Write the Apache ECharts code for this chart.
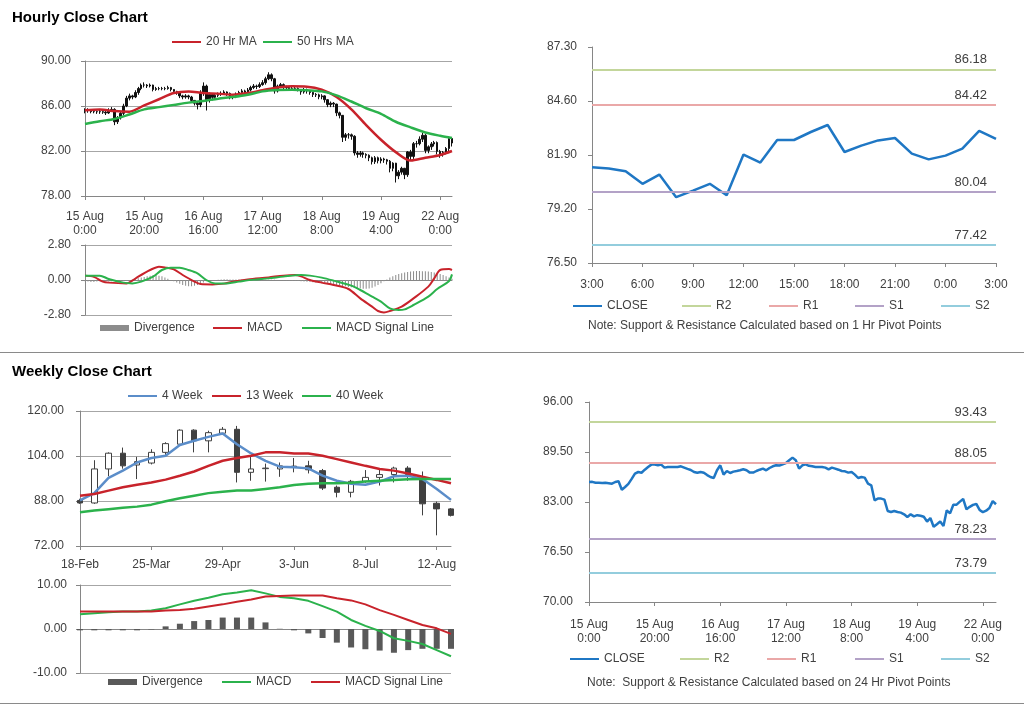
<!DOCTYPE html>
<html><head><meta charset="utf-8">
<script src="https://cdn.jsdelivr.net/npm/echarts@6/dist/echarts.min.js"></script>
<style>html,body{margin:0;padding:0;background:#fff}#c{width:1024px;height:706px}</style>
</head><body><div id="c"></div>
<script>
// ---------- DATA ----------
const hourTickLabels = ['15 Aug\n0:00','15 Aug\n20:00','16 Aug\n16:00','17 Aug\n12:00','18 Aug\n8:00','19 Aug\n4:00','22 Aug\n0:00'];
const pivotHourLabels = ['3:00','6:00','9:00','12:00','15:00','18:00','21:00','0:00','3:00'];
const weekTickLabels = ['18-Feb','25-Mar','29-Apr','3-Jun','8-Jul','12-Aug'];

const firstOpen = 85.55;
const hourlyClose = [
85.6,85.62,85.5,85.5,85.48,85.5,85.45,85.38,85.6,85.7,
84.6,84.95,85.35,86.0,86.7,86.9,86.8,87.2,87.55,87.86,
87.86,87.78,87.86,87.47,87.55,87.55,87.55,87.55,87.64,87.47,
87.3,87.16,86.9,86.8,86.9,86.8,86.5,86.25,86.12,87.12,
87.77,86.56,87.03,86.77,86.95,87.03,87.12,87.25,87.12,86.82,
86.82,87.03,87.2,87.34,87.12,87.42,87.64,87.77,87.73,87.9,
88.07,88.42,88.77,88.42,87.34,87.77,87.9,87.7,87.64,87.55,
87.55,87.55,87.47,87.25,87.47,87.34,87.2,87.03,86.99,86.82,
86.9,86.56,86.12,86.25,86.17,85.39,85.17,83.22,83.44,83.44,
83.31,81.83,81.7,81.83,81.7,81.62,81.4,81.05,81.4,81.14,
81.29,81.22,81.09,80.46,80.92,79.79,80.12,80.46,79.89,81.92,
81.52,82.65,82.65,83.05,83.40,82.05,82.37,82.63,82.75,81.97,
81.68,81.87,82.22,83.11,82.71];
const hourlyHigh = [
85.8,85.8,85.7,85.65,85.6,85.65,85.6,85.55,85.8,85.9,
85.8,85.1,85.5,86.2,86.9,87.1,87.0,87.4,87.7,88.0,
88.1,87.95,88.0,87.9,87.7,87.7,87.7,87.7,87.8,87.7,
87.5,87.35,87.2,87.0,87.05,87.0,86.9,86.5,86.4,87.4,
88.1,87.9,87.2,87.1,87.1,87.2,87.3,87.4,87.3,87.2,
87.0,87.2,87.35,87.5,87.45,87.6,87.8,87.95,87.9,88.1,
88.3,88.6,89.0,88.9,88.5,87.9,88.05,88.0,87.8,87.7,
87.7,87.7,87.65,87.5,87.6,87.55,87.4,87.25,87.15,87.1,
87.05,86.95,86.6,86.4,86.35,86.2,85.5,85.2,83.6,83.6,
83.55,83.4,82.0,82.0,81.95,81.8,81.7,81.5,81.55,81.5,
81.45,81.4,81.3,81.2,81.0,80.95,80.3,80.6,80.5,82.0,
82.1,82.8,82.9,83.3,83.6,83.5,82.5,82.8,82.9,82.85,
82.1,82.0,82.35,83.3,83.2];
const hourlyLow = [
85.35,85.4,85.35,85.35,85.3,85.3,85.3,85.2,85.3,85.5,
84.3,84.4,84.8,85.2,85.9,86.5,86.6,86.7,87.0,87.4,
87.65,87.6,87.65,87.3,87.35,87.4,87.4,87.4,87.45,87.3,
87.1,87.0,86.7,86.6,86.65,86.6,86.3,86.05,85.7,85.9,
86.9,85.6,86.3,86.5,86.6,86.8,86.9,87.0,86.9,86.6,
86.6,86.7,86.9,87.1,86.9,87.0,87.3,87.5,87.5,87.6,
87.8,87.9,88.3,88.2,87.1,87.2,87.6,87.5,87.45,87.35,
87.35,87.35,87.3,87.0,87.1,87.1,87.0,86.8,86.8,86.6,
86.6,86.3,85.9,85.9,85.9,85.1,84.9,82.8,82.9,83.1,
83.0,81.6,81.4,81.5,81.4,81.35,81.1,80.8,80.85,80.9,
80.9,80.95,80.8,80.1,80.2,79.2,79.5,79.9,79.5,79.7,
81.2,81.3,82.3,82.5,82.8,81.8,81.8,82.1,82.4,81.7,
81.4,81.5,81.7,82.0,82.4];

const ma20 = [[0,85.62],[5,85.68],[10,85.55],[15,85.5],[20,86.05],[25,86.6],[30,87.15],[35,87.3],[40,87.15],[45,87.1],[50,87.0],[55,87.15],[60,87.4],[65,87.65],[70,87.75],[75,87.72],[80,87.45],[85,86.8],[90,85.7],[95,84.3],[100,83.0],[105,81.9],[110,81.15],[115,81.4],[120,81.65],[124,82.0]];
const ma50 = [[0,84.4],[5,84.65],[10,84.85],[15,85.25],[20,85.7],[25,85.9],[30,86.1],[35,86.3],[40,86.45],[45,86.65],[50,86.8],[55,87.0],[60,87.3],[65,87.42],[70,87.45],[75,87.4],[80,87.3],[85,86.95],[90,86.4],[95,85.8],[100,85.3],[105,84.6],[110,84.1],[115,83.65],[120,83.35],[124,83.15]];

const hMacd = [[0,0.35],[3,0.25],[6,-0.13],[8,-0.21],[14,-0.27],[16,-0.05],[18,0.27],[22,0.8],[25,1.07],[27,1.01],[30,0.85],[33,0.4],[37,-0.13],[39,-0.32],[43,-0.35],[47,-0.29],[50,-0.13],[55,0.05],[62,0.21],[67,0.35],[71,0.4],[73,0.29],[76,0.0],[80,-0.21],[84,-0.4],[89,-0.72],[93,-1.47],[97,-2.13],[99,-2.48],[101,-2.59],[103,-2.48],[107,-2.13],[111,-1.47],[116,-0.53],[118,0.13],[120,0.8],[123,0.88],[124,0.8]];
const hSignal = [[0,0.35],[5,0.35],[8,0.08],[13,-0.21],[16,-0.27],[19,-0.13],[23,0.27],[26,0.8],[29,0.99],[32,0.99],[35,0.8],[38,0.53],[41,0.0],[44,-0.27],[48,-0.27],[52,-0.13],[57,0.03],[62,0.13],[67,0.27],[73,0.4],[76,0.35],[80,0.19],[84,-0.05],[90,-0.45],[93,-0.8],[97,-1.33],[100,-1.73],[103,-2.27],[106,-2.4],[108,-2.35],[111,-2.0],[116,-1.33],[119,-0.72],[123,-0.08],[124,0.45]];
const hDiv = [
-0.1,-0.12,-0.15,-0.15,-0.12,-0.1,-0.1,-0.12,-0.12,-0.1,-0.08,-0.06,-0.05,-0.04,-0.02,0.0,
0.05,0.1,0.15,0.2,0.25,0.3,0.35,0.4,0.4,0.35,0.3,0.2,0.1,0.0,
-0.1,-0.2,-0.3,-0.4,-0.45,-0.5,-0.5,-0.45,-0.4,-0.3,-0.2,-0.1,-0.05,
-0.02,0.0,0.02,0.05,0.06,0.06,0.05,0.05,0.05,0.04,0.04,0.03,0.03,0.03,0.02,0.02,0.02,0.02,0.02,0.02,0.02,0.02,0.0,0.0,-0.02,-0.03,-0.04,-0.05,-0.06,-0.08,-0.1,-0.12,-0.14,-0.16,-0.18,-0.2,-0.22,
-0.25,-0.28,-0.3,-0.33,-0.36,-0.4,-0.43,-0.47,-0.5,-0.55,-0.58,-0.62,-0.65,-0.68,-0.7,-0.7,-0.68,-0.62,-0.52,-0.4,-0.25,-0.1,
0.05,0.2,0.3,0.4,0.48,0.55,0.6,0.65,0.68,0.7,0.72,0.72,0.7,0.7,0.68,0.65,0.6,0.55,0.48,0.4,0.3,0.2,0.1];

const pivotNames = ['R2','R1','S1','S2'];
const pivot1h = [86.18,84.42,80.04,77.42];
const pivot24h = [93.43,88.05,78.23,73.79];

const wOpen  = [88.2,87.3,99.4,105.0,100.8,101.5,105.3,108.2,113.2,109.4,112.1,113.5,98.2,99.5,99.4,100.0,100.5,98.8,92.9,91.1,95.0,96.4,97.4,99.7,95.8,87.2,85.2];
const wClose = [87.3,99.4,105.0,100.5,102.0,105.3,108.4,113.2,109.4,112.3,113.5,98.2,99.4,99.7,100.5,100.4,99.1,92.6,91.1,95.0,96.4,97.4,99.7,97.4,87.0,85.2,82.9];
const wLow   = [87.0,87.0,96.8,99.5,95.8,101.0,104.3,107.8,105.3,105.3,111.8,94.6,95.2,94.9,96.6,98.2,97.8,91.9,89.3,89.3,94.5,93.5,94.6,95.2,82.9,75.8,82.5];
const wHigh  = [88.8,102.5,105.3,107.0,103.7,106.4,108.9,113.5,113.5,113.0,114.3,114.7,104.1,101.3,101.7,103.3,102.3,99.4,93.5,95.5,99.0,99.4,100.2,100.4,98.5,87.8,85.5];
const wk4  = [88.2,90.8,96.2,98.8,101.7,103.3,104.1,107.9,109.4,110.8,112.0,108.2,104.9,102.3,100.2,100.0,99.6,97.0,95.2,94.1,93.8,94.9,96.8,97.0,95.8,92.3,88.4];
const wk13 = [89.9,90.5,91.7,92.9,93.8,94.6,95.6,97.0,98.5,100.5,102.3,103.3,104.1,105.3,105.3,104.9,104.9,104.1,102.9,101.7,100.5,99.4,98.8,97.8,96.6,95.5,94.3];
const wk40 = [84.0,84.6,85.1,85.6,86.0,86.7,87.9,89.0,89.9,90.8,91.3,91.7,91.7,92.3,92.9,93.7,94.1,94.3,94.3,94.5,94.9,95.2,95.5,95.7,95.8,95.8,95.8];
const wMacd   = [3.35,3.6,3.8,3.95,3.95,4.2,4.7,5.6,6.4,7.1,7.9,8.3,8.8,8.1,7.3,7.0,6.4,5.2,3.95,2.05,0.7,-0.45,-2.1,-2.7,-3.4,-4.8,-6.2];
const wSignal = [3.95,3.95,3.95,3.95,3.95,3.95,4.2,4.3,4.6,5.1,5.6,6.2,6.7,7.4,7.5,7.6,7.6,7.6,7.0,6.5,5.6,4.3,3.2,2.05,0.9,0.15,-1.1];
const wDiv    = [-0.3,-0.3,-0.3,-0.3,-0.3,-0.1,0.6,1.2,1.8,2.05,2.6,2.6,2.6,1.5,0.05,-0.3,-1.0,-2.05,-3.1,-4.2,-4.6,-4.9,-5.4,-4.8,-4.5,-4.5,-4.5];

// ---------- STYLE ----------
const FONT = "'Liberation Sans', Arial, sans-serif";
const TXT = '#404040';
const AX = '#868686';
const GRID = '#a6a6a6';
const pivotColors = ['#c3d69b','#eaa8a8','#b3a2c7','#93cddd'];
const RED = '#c8232b', GREEN = '#2bb24c', BLUE = '#1f77c4';

const hourlyOpen = [firstOpen].concat(hourlyClose.slice(0, -1));
const hourCandles = hourlyClose.map((c, i) => [hourlyOpen[i], c, hourlyLow[i], hourlyHigh[i]]);
const weekCandles = wClose.map((c, i) => [wOpen[i], c, wLow[i], wHigh[i]]);
const last25 = hourlyClose.slice(-25);

function idx(n) { return Array.from({length: n}, (_, i) => String(i)); }

function valAxis(gi, min, max, ticks, margin, split) {
  return {
    type: 'value', gridIndex: gi, min, max,
    axisLine: {show: true, lineStyle: {color: AX}},
    axisTick: {show: true, length: 4, customValues: ticks, lineStyle: {color: AX}},
    axisLabel: {customValues: ticks, formatter: v => v.toFixed(2), color: TXT, fontSize: 12, fontFamily: FONT, margin},
    splitLine: {show: split, lineStyle: {color: GRID}}
  };
}
function catAxis(gi, n, every, labels, margin, lh, showLabel) {
  return {
    type: 'category', gridIndex: gi, boundaryGap: false, data: idx(n),
    axisLine: {show: true, lineStyle: {color: AX}},
    axisTick: {show: showLabel, interval: every - 1, length: 4, lineStyle: {color: AX}},
    axisLabel: {show: showLabel, interval: every - 1, margin, lineHeight: lh, color: TXT, fontSize: 12, fontFamily: FONT,
      formatter: (v, i) => (i % every === 0 && labels[i / every] !== undefined) ? labels[i / every] : ''},
    splitLine: {show: false}
  };
}
function lg(name, x, cy, h) {
  return {data: [name], left: x, top: cy - 7, padding: 0, itemWidth: 29, itemHeight: h || 2, icon: 'rect',
    itemGap: 0, itemTextGap: 4, selectedMode: false, formatter: n => n.split('#')[0],
    textStyle: {color: TXT, fontSize: 12, fontFamily: FONT}};
}
function pivotSeries(name, value, color, ax) {
  return {name, type: 'line', xAxisIndex: ax, yAxisIndex: ax, data: [], itemStyle: {color}, lineStyle: {color},
    markLine: {silent: true, symbol: ['none','none'], animation: false,
      lineStyle: {color, width: 2, type: 'solid'},
      label: {show: true, position: 'insideEndTop', distance: [9, 3], formatter: p => Number(p.value).toFixed(2),
        color: TXT, fontSize: 13, fontFamily: FONT},
      emphasis: {disabled: true},
      data: [{yAxis: value}]}};
}
function lineS(name, data, color, ax, w) {
  return {name, type: 'line', xAxisIndex: ax, yAxisIndex: ax, data, showSymbol: false, symbol: 'none',
    smooth: Array.isArray(data[0]) ? 0.3 : false, itemStyle: {color}, lineStyle: {color, width: w}, z: 3};
}

const series = [
  {name: 'hourly', type: 'candlestick', xAxisIndex: 0, yAxisIndex: 0, data: hourCandles, barWidth: 2, clip: true,
    itemStyle: {color: '#111', color0: '#111', borderColor: '#111', borderColor0: '#111', borderWidth: 1}},
  lineS('20 Hr MA', ma20, RED, 0, 2.5),
  lineS('50 Hrs MA', ma50, GREEN, 0, 2.5),
  {name: 'Divergence#h', type: 'bar', xAxisIndex: 1, yAxisIndex: 1, data: hDiv, barWidth: 1, itemStyle: {color: '#8c8c8c'}},
  lineS('MACD#h', hMacd, RED, 1, 2),
  lineS('MACD Signal Line#h', hSignal, GREEN, 1, 2),
  lineS('CLOSE#1h', last25, BLUE, 2, 2.5),
  {name: 'weekly', type: 'candlestick', xAxisIndex: 3, yAxisIndex: 3, data: weekCandles, barWidth: 6, clip: true,
    itemStyle: {color: '#ffffff', color0: '#404040', borderColor: '#404040', borderColor0: '#404040', borderWidth: 1}},
  lineS('4 Week', wk4, '#5b8dc9', 3, 2.5),
  lineS('13 Week', wk13, RED, 3, 2.5),
  lineS('40 Week', wk40, GREEN, 3, 2.5),
  {name: 'Divergence#w', type: 'bar', xAxisIndex: 4, yAxisIndex: 4, data: wDiv, barWidth: 6, itemStyle: {color: '#595959'}},
  lineS('MACD#w', wMacd, GREEN, 4, 2),
  lineS('MACD Signal Line#w', wSignal, RED, 4, 2),
  lineS('CLOSE#24h', hourlyClose, BLUE, 5, 2.5)
];
pivotNames.forEach((n, i) => series.push(pivotSeries(n + '#1h', pivot1h[i], pivotColors[i], 2)));
pivotNames.forEach((n, i) => series.push(pivotSeries(n + '#24h', pivot24h[i], pivotColors[i], 5)));

const option = {
  animation: false,
  textStyle: {fontFamily: FONT},
  grid: [
    {left: 85, top: 61, width: 367, height: 135},
    {left: 85, top: 245, width: 367, height: 70},
    {left: 592, top: 47, width: 404, height: 216},
    {left: 80, top: 411, width: 371, height: 135},
    {left: 80, top: 585, width: 371, height: 88},
    {left: 589, top: 402, width: 407, height: 200}
  ],
  xAxis: [
    catAxis(0, 125, 20, hourTickLabels, 14, 14, true),
    catAxis(1, 125, 20, [], 8, 14, false),
    catAxis(2, 25, 3, pivotHourLabels, 15, 14, true),
    catAxis(3, 27, 5, weekTickLabels, 12, 14, true),
    catAxis(4, 27, 5, [], 8, 14, false),
    catAxis(5, 125, 20, hourTickLabels, 16, 14, true)
  ],
  yAxis: [
    valAxis(0, 78, 90, [78, 82, 86, 90], 14, true),
    valAxis(1, -2.8, 2.8, [-2.8, 0, 2.8], 14, true),
    valAxis(2, 76.5, 87.3, [76.5, 79.2, 81.9, 84.6, 87.3], 15, false),
    valAxis(3, 72, 120, [72, 88, 104, 120], 16, true),
    valAxis(4, -10, 10, [-10, 0, 10], 13, true),
    valAxis(5, 70, 96, [70, 76.5, 83, 89.5, 96], 16, false)
  ],
  legend: [
    lg('20 Hr MA', 172, 43), lg('50 Hrs MA', 263, 43),
    lg('Divergence#h', 100, 329, 6), lg('MACD#h', 213, 329), lg('MACD Signal Line#h', 302, 329),
    lg('CLOSE#1h', 573, 307), lg('R2#1h', 682, 307), lg('R1#1h', 769, 307), lg('S1#1h', 855, 307), lg('S2#1h', 941, 307),
    lg('4 Week', 128, 397), lg('13 Week', 212, 397), lg('40 Week', 302, 397),
    lg('Divergence#w', 108, 683, 6), lg('MACD#w', 222, 683), lg('MACD Signal Line#w', 311, 683),
    lg('CLOSE#24h', 570, 660), lg('R2#24h', 680, 660), lg('R1#24h', 767, 660), lg('S1#24h', 855, 660), lg('S2#24h', 941, 660)
  ],
  graphic: [
    {type: 'text', left: 12, top: 10, style: {text: 'Hourly Close Chart', fill: '#000', font: "bold 15px 'Liberation Sans', Arial, sans-serif"}},
    {type: 'text', left: 12, top: 364, style: {text: 'Weekly Close Chart', fill: '#000', font: "bold 15px 'Liberation Sans', Arial, sans-serif"}},
    {type: 'text', left: 588, top: 320, style: {text: 'Note: Support & Resistance Calculated based on 1 Hr Pivot Points', fill: TXT, font: "12px 'Liberation Sans', Arial, sans-serif"}},
    {type: 'text', left: 587, top: 677, style: {text: 'Note:  Support & Resistance Calculated based on 24 Hr Pivot Points', fill: TXT, font: "12px 'Liberation Sans', Arial, sans-serif"}},
    {type: 'line', shape: {x1: 0, y1: 352.5, x2: 1024, y2: 352.5}, style: {stroke: '#8a8a8a', lineWidth: 1}},
    {type: 'line', shape: {x1: 0, y1: 703.5, x2: 1024, y2: 703.5}, style: {stroke: '#8a8a8a', lineWidth: 1}}
  ],
  series
};
const chart = echarts.init(document.getElementById('c'), null, {renderer: 'canvas'});
chart.setOption(option);
</script></body></html>
